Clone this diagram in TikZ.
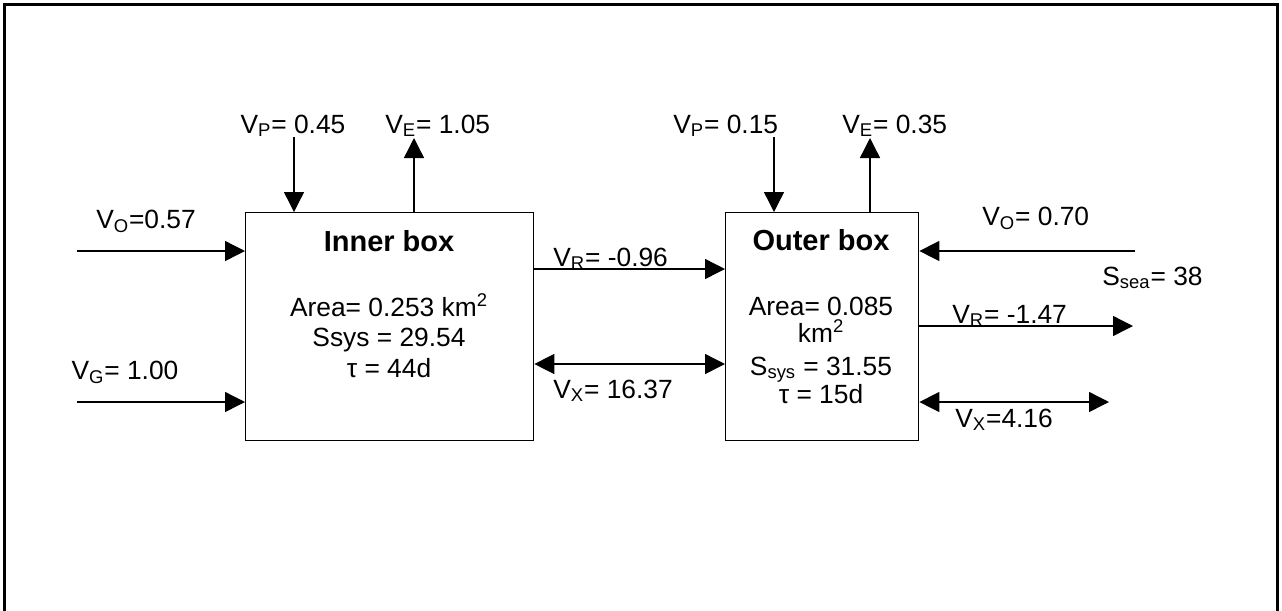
\documentclass[tikz,border=0pt]{standalone}
\usepackage{fontspec}
\setmainfont{Liberation Sans}
\usetikzlibrary{arrows.meta}
\definecolor{BoxLine}{HTML}{000000}
\definecolor{BoxText}{HTML}{000000}
\definecolor{FrameLine}{HTML}{000000}

\begin{document}
\begin{tikzpicture}[x=0.02cm,y=-0.02cm,
      flow/.style={draw=BoxLine,line width=0.8pt,-{Triangle[length=0.4cm,width=0.4cm]}},
      both/.style={draw=BoxLine,line width=0.8pt,{Triangle[length=0.4cm,width=0.4cm]}-{Triangle[length=0.4cm,width=0.4cm]}},
      lbl/.style={anchor=base west,inner sep=0pt,text=BoxText,font=\fontsize{15}{18}\selectfont},
      mid/.style={anchor=base,inner sep=0pt,text=BoxText,font=\fontsize{15}{18}\selectfont},
      ttl/.style={anchor=base,inner sep=0pt,text=BoxText,font=\fontsize{16.5}{20}\selectfont\bfseries},
      boxx/.style={draw=BoxLine,line width=0.8pt,inner sep=0pt,anchor=north west,minimum height=4.56cm}]
      \useasboundingbox (0,0) rectangle (1282,610);
      \draw[FrameLine,line width=1.3pt] (4.5,615) -- (4.5,4.5) -- (1277.5,4.5) -- (1277.5,615);

      \node[boxx,minimum width=5.76cm] (inner) at (245,212) {};
      \node[boxx,minimum width=3.86cm] (outer) at (725,212) {};

      \node[ttl] (innerTitle) at (389,251) {Inner box};
      \node[mid] (innerArea) at (389,316) {Area= 0.253 km\textsuperscript{2}};
      \node[mid] (innerSal) at (389,346) {Ssys = 29.54};
      \node[mid] (innerTau) at (389,377) {τ = 44d};

      \node[ttl] (outerTitle) at (821,250) {Outer box};
      \node[mid] (outerArea) at (821,315) {Area= 0.085};
      \node[mid] (outerUnit) at (821,342) {km\textsuperscript{2}};
      \node[mid] (outerSal) at (821,375) {S\textsubscript{sys} = 31.55};
      \node[mid] (outerTau) at (821,403) {τ = 15d};

      \coordinate (voIn) at (77,251);
      \coordinate (vgIn) at (77,402);
      \coordinate (vpIn) at (294,137);
      \coordinate (veIn) at (414,138);
      \coordinate (rowR) at (0,269);
      \coordinate (rowX) at (0,364);
      \coordinate (vpOut) at (774,137);
      \coordinate (veOut) at (870,138);
      \coordinate (voOut) at (1135,251);
      \coordinate (vrOut) at (1133,326);
      \coordinate (vxOut) at (1109,402);

      \draw[flow] (voIn) -- (voIn -| inner.west);
      \draw[flow] (vgIn) -- (vgIn -| inner.west);
      \draw[flow] (vpIn) -- (vpIn |- inner.north);
      \draw[flow] (veIn |- inner.north) -- (veIn);
      \draw[flow] (rowR -| inner.east) -- (rowR -| outer.west);
      \draw[both] (rowX -| inner.east) -- (rowX -| outer.west);
      \draw[flow] (vpOut) -- (vpOut |- outer.north);
      \draw[flow] (veOut |- outer.north) -- (veOut);
      \draw[flow] (voOut) -- (voOut -| outer.east);
      \draw[flow] (vrOut -| outer.east) -- (vrOut);
      \draw[both] (vxOut -| outer.east) -- (vxOut);

      \node[mid] (lblVoIn) at (146,228) {V\textsubscript{O}=0.57};
      \node[mid] (lblVgIn) at (125,379) {V\textsubscript{G}= 1.00};
      \node[mid] (lblVpIn) at (293,133) {V\textsubscript{P}= 0.45};
      \node[lbl] (lblVeIn) at (385,133) {V\textsubscript{E}= 1.05};
      \node[lbl] (lblVr) at (553,266) {V\textsubscript{R}= -0.96};
      \node[lbl] (lblVx) at (553,398) {V\textsubscript{X}= 16.37};
      \node[lbl] (lblVpOut) at (673,133) {V\textsubscript{P}= 0.15};
      \node[lbl] (lblVeOut) at (842,133) {V\textsubscript{E}= 0.35};
      \node[lbl] (lblVoOut) at (982,225) {V\textsubscript{O}= 0.70};
      \node[lbl] (lblSea) at (1102,285) {S\textsubscript{sea}= 38};
      \node[lbl] (lblVrOut) at (952,323) {V\textsubscript{R}= -1.47};
      \node[lbl] (lblVxOut) at (955,427) {V\textsubscript{X}=4.16};
    \end{tikzpicture}
\end{document}
